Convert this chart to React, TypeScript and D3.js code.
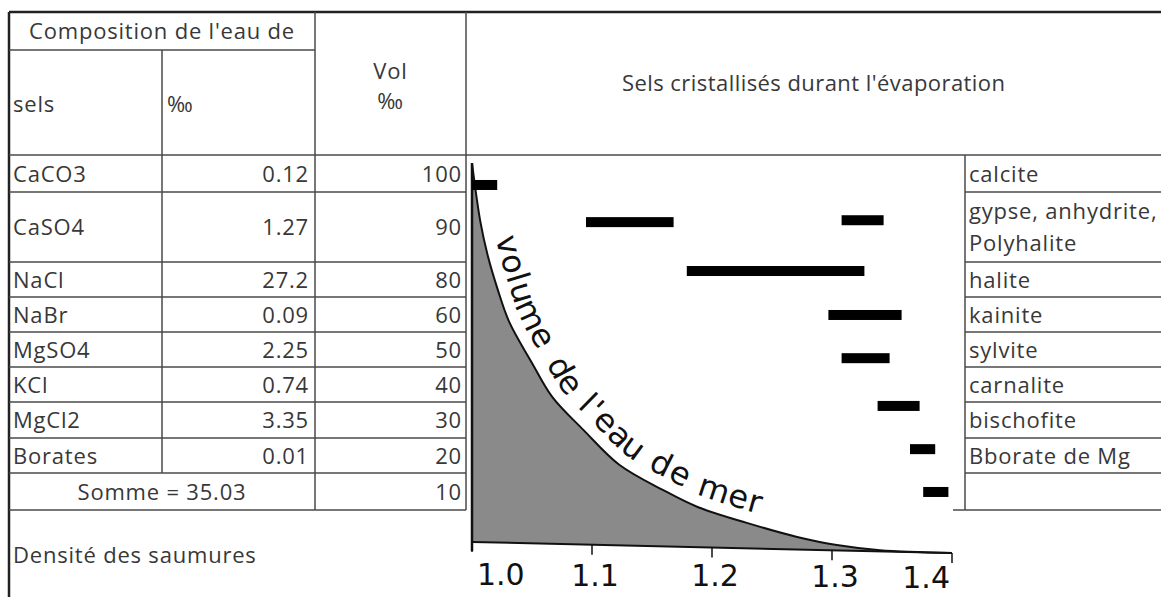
import React from 'react';
import * as d3 from 'd3';

// table contents
const SALTS = ['CaCO3', 'CaSO4', 'NaCl', 'NaBr', 'MgSO4', 'KCl', 'MgCl2', 'Borates'];
const PERMIL = ['0.12', '1.27', '27.2', '0.09', '2.25', '0.74', '3.35', '0.01'];
const VOLUMES = ['100', '90', '80', '60', '50', '40', '30', '20', '10'];
const MINERALS = [['calcite'], ['gypse, anhydrite,', 'Polyhalite'], ['halite'], ['kainite'],
  ['sylvite'], ['carnalite'], ['bischofite'], ['Bborate de Mg'], ['']];
const SUM_LABEL = 'Somme = 35.03';

// brine volume vs density curve
const CURVE_DENSITY = [1.0, 1.007, 1.013, 1.021, 1.031, 1.05, 1.067, 1.093, 1.123, 1.159, 1.188, 1.229, 1.271, 1.304, 1.34, 1.4];
const CURVE_VOLUME = [100, 84.5, 75.8, 67.2, 58.3, 47.6, 38.7, 30.2, 21.2, 14.9, 10.6, 6.7, 3.3, 1.4, 0.3, 0];

// crystallisation ranges (density start, end, level on the volume scale)
const BAR_START = [1.0, 1.095, 1.308, 1.179, 1.297, 1.308, 1.338, 1.365, 1.376];
const BAR_END = [1.021, 1.168, 1.343, 1.327, 1.358, 1.348, 1.373, 1.386, 1.397];
const BAR_LEVEL = [94.2, 84.4, 84.9, 71.5, 59.9, 48.5, 35.9, 24.5, 13.2];

const X_TICKS = [1.0, 1.1, 1.2, 1.3, 1.4];

// layout
const W = 1161;
const H = 597;
const TOP = 12;
const LEFT = 9;
const COLS = [9, 162, 315, 466];
const RIGHT_COL = 965;
const ROW_EDGES = [155, 192, 262, 297, 332, 367, 402, 438, 473, 510];
const FONT = "'Open Sans', Lato, sans-serif";
const CHART_FONT = "'DejaVu Sans', sans-serif";
const TXT = '#383838';
const LINE = '#4a4a4a';
const SKEW = 11 / 480;

export default function App() {
  const x = d3.scaleLinear().domain([1.0, 1.4]).range([472, 952]);
  const y = d3.scaleLinear().domain([0, 100]).range([542, 163]);

  const pts: [number, number][] = CURVE_DENSITY.map((d, i) => [d, CURVE_VOLUME[i]]);
  const area = d3.area<[number, number]>()
    .x(d => x(d[0]))
    .y0(y(0))
    .y1(d => y(d[1]))
    .curve(d3.curveCatmullRom.alpha(0.5));
  const line = d3.line<[number, number]>()
    .x(d => x(d[0]))
    .y(d => y(d[1]))
    .curve(d3.curveCatmullRom.alpha(0.5));

  const x0 = x(1.0);
  const skewT = `matrix(1, ${SKEW}, 0, 1, 0, ${-SKEW * x0})`;
  const fmt = d3.format('.1f');

  const rowMid = (i: number) => (ROW_EDGES[i] + ROW_EDGES[i + 1]) / 2;

  return (
    <svg width={W} height={H} style={{ position: 'absolute', left: 0, top: 0, background: '#fff' }}>
      {/* table grid */}
      <g stroke={LINE} strokeWidth={1.5}>
        <line x1={LEFT} x2={W} y1={TOP} y2={TOP} stroke="#222" strokeWidth={2.5} />
        <line x1={LEFT} x2={LEFT} y1={TOP} y2={H} stroke="#222" strokeWidth={2.5} />
        <line x1={LEFT} x2={COLS[2]} y1={50} y2={50} />
        <line x1={COLS[1]} x2={COLS[1]} y1={50} y2={ROW_EDGES[8]} />
        <line x1={COLS[2]} x2={COLS[2]} y1={TOP} y2={ROW_EDGES[9]} />
        <line x1={COLS[3]} x2={COLS[3]} y1={TOP} y2={ROW_EDGES[9]} />
        <line x1={LEFT} x2={W} y1={ROW_EDGES[0]} y2={ROW_EDGES[0]} />
        {ROW_EDGES.slice(1).map(e => (
          <line key={'l' + e} x1={LEFT} x2={COLS[3]} y1={e} y2={e} />
        ))}
        {ROW_EDGES.slice(1).map((e, i) => (
          <line key={'r' + e} x1={i === ROW_EDGES.length - 2 ? 953 : RIGHT_COL} x2={W} y1={e} y2={e} />
        ))}
        <line x1={RIGHT_COL} x2={RIGHT_COL} y1={ROW_EDGES[0]} y2={ROW_EDGES[9]} />
      </g>

      {/* headers and cells */}
      <g fontFamily={FONT} fontSize={22} fill={TXT} style={{ letterSpacing: '0.8px' }}>
        <text x={(COLS[0] + COLS[2]) / 2} y={39} textAnchor="middle">Composition de l'eau de</text>
        <text x={13} y={112}>sels</text>
        <text x={167} y={112}>‰</text>
        <text x={(COLS[2] + COLS[3]) / 2} y={79} textAnchor="middle">Vol</text>
        <text x={(COLS[2] + COLS[3]) / 2} y={109} textAnchor="middle">‰</text>
        <text x={(COLS[3] + W) / 2} y={91} textAnchor="middle" textLength={383}
          style={{ letterSpacing: 0 }}>
          Sels cristallisés durant l'évaporation
        </text>
        <text x={13} y={563}>Densité des saumures</text>

        {SALTS.map((s, i) => (
          <text key={s} x={13} y={rowMid(i) + 8}>{s}</text>
        ))}
        {PERMIL.map((p, i) => (
          <text key={'p' + i} x={COLS[2] - 6} y={rowMid(i) + 8} textAnchor="end">{p}</text>
        ))}
        <text x={(COLS[0] + COLS[2]) / 2} y={rowMid(8) + 8} textAnchor="middle">{SUM_LABEL}</text>
        {VOLUMES.map((v, i) => (
          <text key={'v' + i} x={COLS[3] - 4} y={rowMid(i) + 8} textAnchor="end">{v}</text>
        ))}
        {MINERALS.map((m, i) => (
          m.length === 1
            ? <text key={'m' + i} x={RIGHT_COL + 4} y={rowMid(i) + 8}>{m[0]}</text>
            : <text key={'m' + i} x={RIGHT_COL + 4} y={rowMid(i) - 8}>
                {m.map((t, j) => <tspan key={t} x={RIGHT_COL + 4} dy={j === 0 ? 0 : 32}>{t}</tspan>)}
              </text>
        ))}
      </g>

      {/* evaporation chart */}
      <g transform={skewT}>
        <path d={area(pts) ?? ''} fill="#8a8a8a" />
        <path id="volcurve" d={line(pts) ?? ''} fill="none" stroke="#111" strokeWidth={2} />
        <line x1={x0} x2={x0} y1={y(100)} y2={y(0) + 9} stroke="#111" strokeWidth={2.5} />
        <line x1={x0} x2={x(1.4)} y1={y(0)} y2={y(0)} stroke="#111" strokeWidth={2} />
        {X_TICKS.map(t => (
          <line key={t} x1={x(t)} x2={x(t)} y1={y(0)} y2={y(0) + 10} stroke="#111" strokeWidth={1.5} />
        ))}
        <text fontFamily={CHART_FONT} fontSize={32} fill="#111" dy={-12}
          style={{ letterSpacing: '1px', wordSpacing: '3px' }}>
          <textPath href="#volcurve" startOffset={78}>volume de l'eau de mer</textPath>
        </text>
      </g>
      {X_TICKS.map((t, i) => {
        const last = i === X_TICKS.length - 1;
        const anchor = i === 0 ? 'start' : last ? 'end' : 'middle';
        const dx = i === 0 ? 5 : last ? -2 : 3;
        return (
          <text key={'t' + t} x={x(t) + dx} y={585 + 0.006 * (x(t) - x0)} textAnchor={anchor}
            fontFamily={CHART_FONT} fontSize={30} fill="#111">{fmt(t)}</text>
        );
      })}

      {BAR_START.map((b, i) => (
        <rect key={'b' + i} x={x(b)} y={y(BAR_LEVEL[i]) - 5} width={x(BAR_END[i]) - x(b)} height={10} fill="#000" />
      ))}
    </svg>
  );
}
